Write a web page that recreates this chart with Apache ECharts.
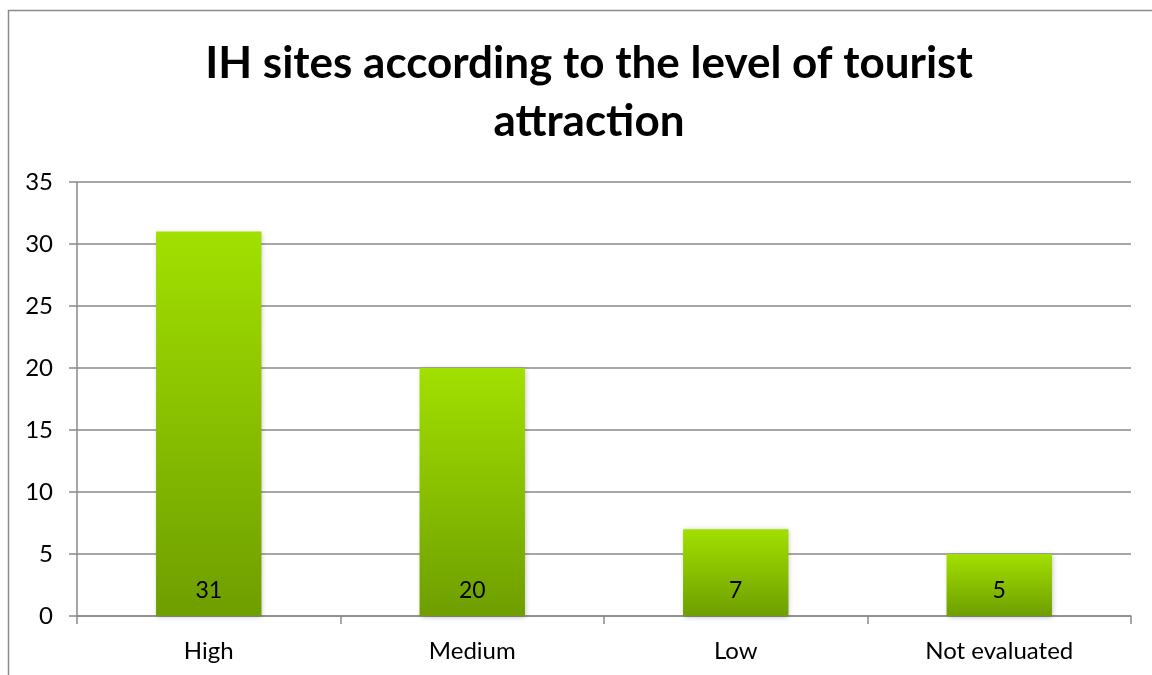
<!DOCTYPE html>
<html>
<head>
<meta charset="utf-8">
<style>
  html, body { margin: 0; padding: 0; background: #ffffff; }
  #chart { width: 1152px; height: 675px; }
</style>
<script src="https://cdn.jsdelivr.net/npm/echarts@6/dist/echarts.min.js"></script>
</head>
<body>
<div id="chart"></div>
<script>
// Number of intangible heritage sites per tourist-attraction level
const categories = ['High', 'Medium', 'Low', 'Not evaluated'];
const siteCounts = [31, 20, 7, 5];
const yTicks = { min: 0, max: 35, interval: 5 };

const FONT = 'Lato, "Open Sans", "Liberation Sans", sans-serif';

const chart = echarts.init(document.getElementById('chart'), null, { renderer: 'canvas' });

chart.setOption({
  backgroundColor: '#ffffff',
  animation: false,
  graphic: [{
    type: 'rect',
    shape: { x: 8.5, y: 10.5, width: 1160, height: 700 },
    style: { fill: 'none', stroke: '#8a8a8a', lineWidth: 1.5 },
    silent: true,
    z: -1
  }],
  title: {
    text: 'IH sites according to the level of tourist\nattraction',
    left: 584,
    top: 30,
    textAlign: 'center',
    textStyle: {
      fontFamily: FONT,
      fontWeight: 'bold',
      fontSize: 44,
      lineHeight: 58,
      color: '#000000'
    }
  },
  grid: { left: 77, right: 21, top: 182, bottom: 59, containLabel: false },
  xAxis: {
    type: 'category',
    data: categories,
    axisLine: { show: true, lineStyle: { color: '#8a8a8a', width: 1.5 } },
    axisTick: { show: true, alignWithLabel: false, length: 8, lineStyle: { color: '#8a8a8a', width: 1.5 } },
    axisLabel: { fontFamily: FONT, fontSize: 24, color: '#000000', margin: 23 }
  },
  yAxis: {
    type: 'value',
    min: yTicks.min,
    max: yTicks.max,
    interval: yTicks.interval,
    axisLine: { show: true, lineStyle: { color: '#8a8a8a', width: 1.5 } },
    axisTick: { show: true, length: 8, lineStyle: { color: '#8a8a8a', width: 1.5 } },
    splitLine: { show: true, lineStyle: { color: '#8a8a8a', width: 1.5 } },
    axisLabel: { fontFamily: FONT, fontSize: 24, color: '#000000', margin: 24 }
  },
  series: [{
    type: 'bar',
    data: siteCounts,
    barCategoryGap: '60%',
    itemStyle: {
      color: new echarts.graphic.LinearGradient(0, 0, 0, 1, [
        { offset: 0, color: '#a2e000' },
        { offset: 1, color: '#6e9e00' }
      ]),
      shadowBlur: 5,
      shadowColor: 'rgba(0,0,0,0.25)',
      shadowOffsetX: 1,
      shadowOffsetY: 1
    },
    label: {
      show: true,
      position: 'insideBottom',
      distance: 14,
      fontFamily: FONT,
      fontSize: 23,
      color: '#000000'
    }
  }]
});
</script>
</body>
</html>
